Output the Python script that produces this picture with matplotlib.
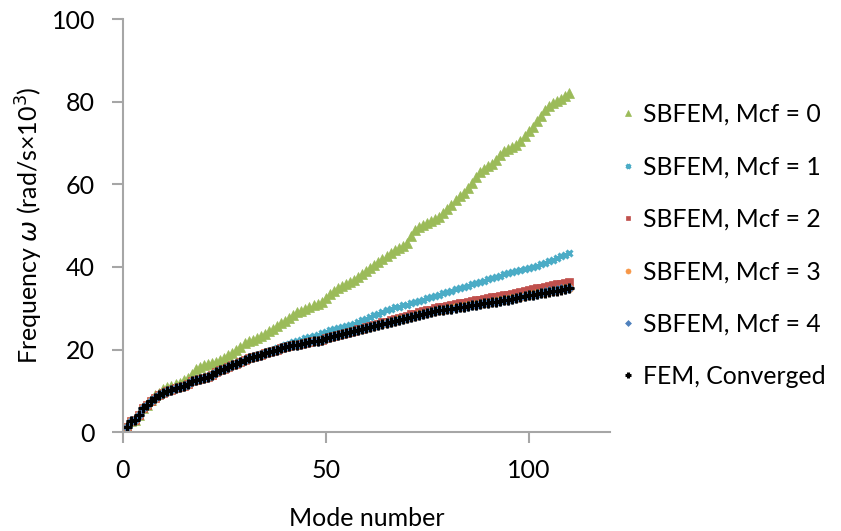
import numpy as np
import matplotlib
matplotlib.use("Agg")
import matplotlib.pyplot as plt

plt.rcParams['font.family'] = ['Lato', 'DejaVu Sans']
plt.rcParams['mathtext.fontset'] = 'dejavusans'

modes = np.arange(1, 111)

fem = [1.2, 2.6, 2.9, 4.1, 5.8, 6.5, 7.6, 8.4, 8.9, 9.4,
       10.0, 10.3, 10.6, 10.9, 11.2, 11.7, 12.3, 12.7, 13.0, 13.2,
       13.4, 13.9, 14.5, 15.0, 15.4, 15.8, 16.2, 16.6, 17.0, 17.5,
       17.9, 18.2, 18.5, 18.8, 19.1, 19.4, 19.7, 20.0, 20.3, 20.6,
       20.8, 21.0, 21.2, 21.4, 21.6, 21.8, 22.0, 22.2, 22.4, 22.7,
       23.0, 23.2, 23.5, 23.7, 24.0, 24.2, 24.4, 24.7, 24.9, 25.2,
       25.4, 25.7, 25.9, 26.2, 26.4, 26.7, 26.9, 27.2, 27.4, 27.6,
       27.9, 28.1, 28.4, 28.6, 28.8, 29.0, 29.3, 29.5, 29.6, 29.8,
       29.9, 30.1, 30.3, 30.4, 30.6, 30.7, 30.9, 31.0, 31.2, 31.3,
       31.5, 31.6, 31.8, 31.9, 32.1, 32.3, 32.5, 32.7, 32.9, 33.1,
       33.3, 33.4, 33.6, 33.8, 34.0, 34.1, 34.3, 34.5, 34.6, 34.8]

mcf4 = [1.2, 2.6, 2.9, 4.1, 5.8, 6.5, 7.6, 8.4, 8.9, 9.4,
        10.0, 10.3, 10.6, 10.9, 11.2, 11.7, 12.3, 12.7, 13.0, 13.2,
        13.4, 13.9, 14.5, 15.0, 15.4, 15.8, 16.2, 16.6, 17.0, 17.5,
        17.9, 18.2, 18.5, 18.8, 19.1, 19.4, 19.7, 20.0, 20.3, 20.6,
        20.8, 21.0, 21.2, 21.4, 21.6, 21.8, 22.0, 22.2, 22.4, 22.7,
        23.0, 23.2, 23.5, 23.7, 24.0, 24.2, 24.4, 24.7, 24.9, 25.2,
        25.4, 25.7, 25.9, 26.2, 26.4, 26.7, 26.9, 27.2, 27.4, 27.6,
        27.9, 28.1, 28.4, 28.6, 28.8, 29.0, 29.3, 29.5, 29.6, 29.8,
        29.9, 30.1, 30.3, 30.4, 30.6, 30.7, 30.9, 31.0, 31.2, 31.3,
        31.5, 31.6, 31.8, 31.9, 32.1, 32.3, 32.5, 32.7, 32.9, 33.1,
        33.3, 33.5, 33.7, 33.9, 34.1, 34.2, 34.4, 34.6, 34.7, 34.9]

mcf3 = [1.2, 2.6, 2.9, 4.1, 5.8, 6.5, 7.6, 8.4, 8.9, 9.4,
        10.0, 10.3, 10.6, 10.9, 11.2, 11.7, 12.3, 12.7, 13.0, 13.2,
        13.4, 13.9, 14.5, 15.0, 15.4, 15.8, 16.2, 16.6, 17.0, 17.5,
        17.9, 18.2, 18.5, 18.8, 19.1, 19.4, 19.7, 20.0, 20.3, 20.6,
        20.8, 21.0, 21.2, 21.4, 21.6, 21.8, 22.0, 22.2, 22.4, 22.7,
        23.0, 23.2, 23.5, 23.7, 24.0, 24.2, 24.5, 24.8, 25.0, 25.3,
        25.5, 25.8, 26.0, 26.3, 26.5, 26.8, 27.0, 27.3, 27.5, 27.7,
        28.0, 28.2, 28.5, 28.7, 28.9, 29.1, 29.4, 29.6, 29.7, 29.9,
        30.0, 30.2, 30.4, 30.5, 30.7, 30.8, 31.0, 31.1, 31.3, 31.4,
        31.6, 31.7, 31.9, 32.0, 32.2, 32.4, 32.6, 32.8, 33.0, 33.2,
        33.4, 33.6, 33.8, 34.0, 34.2, 34.3, 34.5, 34.7, 34.9, 35.0]

mcf2 = [1.2, 2.6, 2.9, 4.1, 5.8, 6.5, 7.6, 8.4, 8.9, 9.4,
        10.0, 10.3, 10.6, 10.9, 11.2, 11.7, 12.3, 12.7, 13.0, 13.2,
        13.4, 13.9, 14.5, 15.0, 15.4, 15.8, 16.2, 16.6, 17.0, 17.5,
        17.9, 18.2, 18.5, 18.8, 19.1, 19.4, 19.7, 20.0, 20.3, 20.6,
        20.8, 21.0, 21.2, 21.4, 21.6, 21.8, 22.0, 22.2, 22.4, 22.7,
        23.0, 23.2, 23.5, 23.8, 24.1, 24.3, 24.6, 24.9, 25.1, 25.4,
        25.7, 26.0, 26.3, 26.6, 26.8, 27.1, 27.4, 27.7, 27.9, 28.2,
        28.5, 28.7, 29.0, 29.3, 29.5, 29.7, 30.0, 30.3, 30.4, 30.6,
        30.8, 31.0, 31.2, 31.3, 31.5, 31.7, 31.9, 32.1, 32.3, 32.5,
        32.7, 32.8, 33.0, 33.1, 33.3, 33.5, 33.7, 33.9, 34.1, 34.4,
        34.6, 34.8, 35.0, 35.2, 35.4, 35.6, 35.8, 36.0, 36.1, 36.3]

mcf1 = [1.2, 2.6, 2.9, 4.1, 5.8, 6.5, 7.6, 8.4, 8.9, 9.4,
        10.0, 10.3, 10.6, 10.9, 11.2, 11.7, 12.3, 12.7, 13.0, 13.2,
        13.4, 13.9, 14.5, 15.0, 15.4, 15.8, 16.2, 16.6, 17.0, 17.5,
        17.9, 18.2, 18.6, 18.9, 19.3, 19.6, 19.9, 20.3, 20.6, 21.0,
        21.4, 21.8, 22.1, 22.4, 22.7, 23.0, 23.3, 23.6, 23.9, 24.3,
        24.7, 24.9, 25.2, 25.4, 25.7, 25.9, 26.3, 26.7, 27.1, 27.5,
        27.9, 28.3, 28.7, 29.1, 29.5, 29.9, 30.2, 30.4, 30.7, 30.9,
        31.2, 31.5, 31.8, 32.1, 32.4, 32.7, 33.0, 33.2, 33.6, 34.0,
        34.3, 34.6, 34.9, 35.2, 35.5, 35.8, 36.1, 36.4, 36.7, 37.0,
        37.3, 37.6, 37.9, 38.3, 38.6, 38.8, 39.0, 39.2, 39.4, 39.7,
        40.0, 40.3, 40.7, 41.0, 41.4, 41.8, 42.2, 42.6, 43.0, 43.3]

mcf0 = [1.2, 2.6, 2.9, 4.1, 5.8, 6.6, 7.8, 9.0, 9.6, 10.5,
        11.0, 11.3, 11.6, 12.0, 12.6, 13.2, 14.2, 15.2, 15.8, 16.2,
        16.5, 16.8, 17.0, 17.4, 18.0, 18.6, 19.1, 19.8, 20.6, 21.6,
        22.0, 22.3, 22.8, 23.3, 23.8, 24.4, 25.0, 25.7, 26.4, 27.0,
        27.6, 28.3, 29.0, 29.4, 29.8, 30.2, 30.7, 31.1, 31.6, 32.4,
        33.4, 34.3, 35.0, 35.5, 35.9, 36.3, 36.9, 37.6, 38.3, 39.0,
        39.7, 40.4, 41.2, 41.9, 42.6, 43.3, 44.0, 44.6, 45.2, 45.8,
        47.5, 49.0, 49.6, 50.1, 50.6, 51.1, 51.6, 52.1, 53.0, 54.0,
        55.0, 56.2, 57.2, 58.0, 59.0, 60.3, 61.7, 63.0, 63.7, 64.4,
        65.0, 66.0, 67.0, 68.0, 68.5, 69.0, 69.6, 70.6, 71.8, 72.8,
        74.0, 75.3, 76.6, 78.0, 79.0, 79.7, 80.2, 80.7, 81.3, 82.0]

labels = ['SBFEM, Mcf = 0', 'SBFEM, Mcf = 1', 'SBFEM, Mcf = 2',
          'SBFEM, Mcf = 3', 'SBFEM, Mcf = 4', 'FEM, Converged']
series = [mcf0, mcf1, mcf2, mcf3, mcf4, fem]
colors = ['#9BBB59', '#4BACC6', '#C0504D', '#F79646', '#4F81BD', '#000000']
markers = ['^', 'x', 's', 'o', 'D', '+']
sizes = [7.5, 5, 6, 6, 5, 6.5]

fig = plt.figure(figsize=(8.41, 5.31), dpi=100)
ax = fig.add_axes([0.146, 0.186, 0.579, 0.778])

for vals, lab, c, m, s in zip(series, labels, colors, markers, sizes):
    ax.plot(modes, vals, linestyle='none', marker=m, color=c, ms=s,
            mew=2.2 if m in ('x', '+') else 0.5, label=lab)

ax.set_xlim(0, 120)
ax.set_ylim(0, 100)
ax.set_xticks([0, 50, 100])
ax.set_yticks(range(0, 101, 20))
for sp in ['top', 'right']:
    ax.spines[sp].set_visible(False)
for sp in ['left', 'bottom']:
    ax.spines[sp].set_color('#A6A6A6')
    ax.spines[sp].set_linewidth(1.5)
ax.tick_params(axis='both', colors='#A6A6A6', length=8, width=1.5,
               labelsize=18, labelcolor='black')
ax.tick_params(axis='y', pad=12)
ax.tick_params(axis='x', pad=11)

ax.set_xlabel('Mode number', fontsize=18, labelpad=18)
ax.set_ylabel(r'Frequency $\omega$ (rad/s×10$^3$)', fontsize=18, labelpad=5)

leg = ax.legend(loc='upper left', bbox_to_anchor=(0.972, 0.851), frameon=False,
                fontsize=17.8, handlelength=0.8, handletextpad=0.2,
                labelspacing=1.19, markerscale=0.6)

fig.savefig('out.png', dpi=100)
